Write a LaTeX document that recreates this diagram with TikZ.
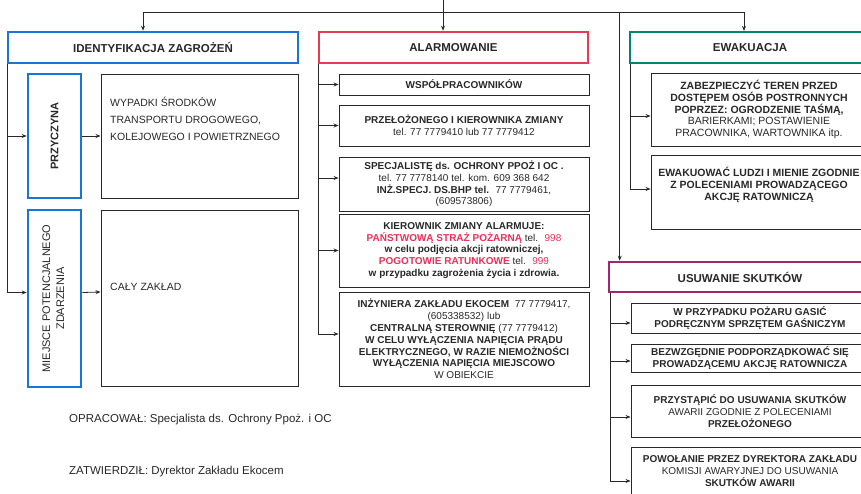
\documentclass[tikz,border=0pt]{standalone}
\usepackage{fontspec}
\setsansfont{Liberation Sans}
\definecolor{hdrblue}{RGB}{24,118,214}
\definecolor{hdrred}{RGB}{232,58,82}
\definecolor{hdrgreen}{RGB}{0,134,108}
\definecolor{hdrpurple}{RGB}{163,38,104}
\definecolor{alarmred}{RGB}{236,46,88}
\definecolor{ink}{RGB}{40,40,40}
\tikzset{every picture/.style={/utils/exec={\sffamily}}}
\usetikzlibrary{calc}
\usetikzlibrary{positioning}
\usetikzlibrary{arrows.meta}

\tikzset{
  header/.style={draw=#1, line width=2.6pt, inner sep=0pt, text=ink,
    font=\fontsize{11.5}{13}\selectfont\bfseries},
  box/.style={draw=ink, line width=0.9pt, inner sep=0pt, align=center, text=ink},
  midtext/.style={font=\fontsize{10}{11.8}\selectfont},
  righttext/.style={font=\fontsize{10.5}{11.7}\selectfont},
  link/.style={draw=ink, line width=0.8pt, -{Stealth[length=5pt,width=4pt]}},
}

\begin{document}
\begin{tikzpicture}[x=1pt, y=-1pt]
  \useasboundingbox (0,0) rectangle (861,494);

  % headers
  \node [header=hdrblue, minimum width=290pt, minimum height=31pt] (ident) at (153,47.5) {IDENTYFIKACJA ZAGROŻEŃ};
  \node [header=hdrred, minimum width=269pt, minimum height=31pt] (alarm) at (453.5,47.5) {ALARMOWANIE};
  \node [header=hdrgreen, line width=2.2pt, minimum width=240pt, minimum height=31pt] (ewak) at (750,47.5) {EWAKUACJA};
  \node [header=hdrpurple, minimum width=262pt, minimum height=30pt] (usuw) at (740,277) {USUWANIE SKUTKÓW};

  % left column
  \node [header=hdrblue, font=\fontsize{11}{13}\selectfont\bfseries, minimum width=53pt, minimum height=124pt] (przyczyna) at (54.5,136) {\rotatebox{90}{PRZYCZYNA}};
  \node [header=hdrblue, font=\fontsize{11}{13}\selectfont, minimum width=53pt, minimum height=177pt] (miejsce) at (54.5,298.5)
    {\rotatebox{90}{\begin{tabular}{@{}c@{}}MIEJSCE POTENCJALNEGO\\[1pt]ZDARZENIA\end{tabular}}};
  \node [box, minimum width=197pt, minimum height=124pt] (wypadki) at (199.5,136) {};
  \node [box, minimum width=197pt, minimum height=176pt] (caly) at (199.5,298) {};
  \node [anchor=north west, align=left, text=ink, inner sep=0pt, font=\fontsize{10.5}{17}\selectfont]
    (wypadkitxt) at (110,97) {WYPADKI ŚRODKÓW\\TRANSPORTU DROGOWEGO,\\KOLEJOWEGO I POWIETRZNEGO};
  \node [anchor=west, text=ink, inner sep=0pt, font=\fontsize{10.5}{12}\selectfont] (calytxt) at (110,287) {CAŁY ZAKŁAD};

  % middle column
  \node [box, midtext, minimum width=250pt, minimum height=21pt] (wspol) at (464,84.5) {\bfseries WSPÓŁPRACOWNIKÓW};
  \node [box, midtext, minimum width=250pt, minimum height=41pt] (przel) at (464,125.5)
    {\bfseries PRZEŁOŻONEGO I KIEROWNIKA ZMIANY\\tel. 77 7779410 lub 77 7779412};
  \node [box, midtext, minimum width=250pt, minimum height=54pt] (specj) at (464,184)
    {\bfseries SPECJALISTĘ ds. OCHRONY PPOŻ I OC .\\tel. 77 7778140 tel. kom. 609 368 642\\
     \bfseries INŻ.SPECJ. DS.BHP tel. \mdseries\ 77 7779461,\\(609573806)};
  \node [box, midtext, minimum width=250pt, minimum height=73pt] (kier) at (464,250.5)
    {\bfseries KIEROWNIK ZMIANY ALARMUJE:\\
     {\bfseries\color{alarmred}PAŃSTWOWĄ STRAŻ POŻARNĄ} tel. \ \textcolor{alarmred}{998}\\
     \bfseries w celu podjęcia akcji ratowniczej,\\
     {\bfseries\color{alarmred}POGOTOWIE RATUNKOWE} tel. \ \textcolor{alarmred}{999}\\
     \bfseries w przypadku zagrożenia życia i zdrowia.};
  \node [box, midtext, minimum width=250pt, minimum height=94pt] (inz) at (464,339)
    {{\bfseries INŻYNIERA ZAKŁADU EKOCEM}\ \ 77 7779417,\\(605338532) lub\\
     {\bfseries CENTRALNĄ STEROWNIĘ} (77 7779412)\\
     \bfseries W CELU WYŁĄCZENIA NAPIĘCIA PRĄDU\\
     \bfseries ELEKTRYCZNEGO, W RAZIE NIEMOŻNOŚCI\\
     \bfseries WYŁĄCZENIA NAPIĘCIA MIEJSCOWO\\W OBIEKCIE};

  % right column
  \node [box, righttext, minimum width=216pt, minimum height=73pt] (zabezp) at (759,109.5)
    {\bfseries ZABEZPIECZYĆ TEREN PRZED\\\bfseries DOSTĘPEM OSÓB POSTRONNYCH\\
     \bfseries POPRZEZ: OGRODZENIE TAŚMĄ,\\BARIERKAMI; POSTAWIENIE\\PRACOWNIKA, WARTOWNIKA itp.};
  \node [box, righttext, minimum width=216pt, minimum height=74pt] (ewakuowac) at (759,192)
    {\bfseries EWAKUOWAĆ LUDZI I MIENIE ZGODNIE\\\bfseries Z POLECENIAMI PROWADZĄCEGO\\\bfseries AKCJĘ RATOWNICZĄ\\[5pt]};
  \node [box, midtext, minimum width=238pt, minimum height=30pt] (gasic) at (750,318)
    {\bfseries W PRZYPADKU POŻARU GASIĆ\\\bfseries PODRĘCZNYM SPRZĘTEM GAŚNICZYM};
  \node [box, midtext, minimum width=238pt, minimum height=28pt] (podp) at (750,358)
    {\bfseries BEZWZGĘDNIE PODPORZĄDKOWAĆ SIĘ\\\bfseries PROWADZĄCEMU AKCJĘ RATOWNICZA};
  \node [box, midtext, minimum width=238pt, minimum height=52pt] (przyst) at (750,411)
    {\bfseries PRZYSTĄPIĆ DO USUWANIA SKUTKÓW\\AWARII ZGODNIE Z POLECENIAMI\\\bfseries PRZEŁOŻONEGO};
  \node [box, midtext, minimum width=238pt, minimum height=48pt] (powol) at (750,471)
    {\bfseries POWOŁANIE PRZEZ DYREKTORA ZAKŁADU\\KOMISJI AWARYJNEJ DO USUWANIA\\\bfseries SKUTKÓW AWARII};

  % signatures
  \node [anchor=base west, text=ink, inner sep=0pt, font=\fontsize{11.5}{13}\selectfont] (opracowal) at (69,422)
    {OPRACOWAŁ: Specjalista ds. Ochrony Ppoż. i OC};
  \node [anchor=base west, text=ink, inner sep=0pt, font=\fontsize{11.5}{13}\selectfont] (zatwierdzil) at (69,474)
    {ZATWIERDZIŁ: Dyrektor Zakładu Ekocem};

  % top distribution
  \coordinate (src) at (443,0);
  \coordinate (bus) at (443,12);
  \draw [link] (src) -- (src |- alarm.north);
  \draw [link] (bus) -| ([xshift=-10pt]ident.north);
  \draw [link] (bus) -| ([xshift=-6pt]ewak.north);
  \draw [link] (bus) -| ([xshift=12pt]usuw.north west);

  % branches
  \draw [link] ([xshift=1pt]ident.south west) |- (przyczyna.west);
  \draw [link] ([xshift=1pt]ident.south west) |- ([yshift=6pt]miejsce.west);
  \draw [link] (przyczyna) -- (wypadki);
  \draw [link] ([yshift=6pt]miejsce.east) -- ([yshift=6pt]caly.west);

  \foreach \name/\dy in {wspol/0, przel/0, specj/6, kier/0, inz/5} {
    \draw [link] ([xshift=1pt]alarm.south west) |- ([yshift=\dy pt]\name.west);
  }
  \foreach \name/\dy in {zabezp/-6.5, ewakuowac/3} {
    \draw [link] ([xshift=1pt]ewak.south west) |- ([yshift=\dy pt]\name.west);
  }
  \foreach \name/\dy in {gasic/-5, podp/-3, przyst/-6, powol/-10} {
    \draw [link] ([xshift=3pt]usuw.south west) |- ([yshift=\dy pt]\name.west);
  }
\end{tikzpicture}
\end{document}
